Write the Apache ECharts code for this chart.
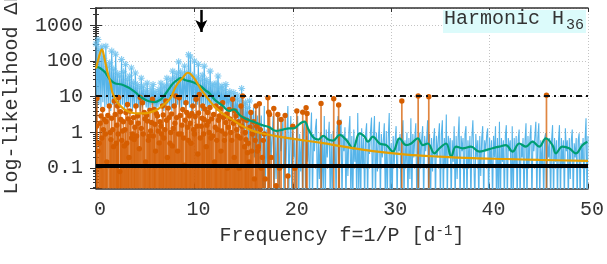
<!DOCTYPE html>
<html><head><meta charset="utf-8">
<script src="https://cdn.jsdelivr.net/npm/echarts@6/dist/echarts.min.js"></script>
<style>html,body{margin:0;padding:0;background:#fff}#c{width:607px;height:264px}</style>
</head><body><div id="c"></div>
<script>
// ---------------- data ----------------
const FREQ_START = 0;      // first frequency of the blue periodogram [1/d]
const FREQ_STEP = 0.1;     // frequency spacing of the blue periodogram
const blueValues = [
 300,5,400,6,200,5,250,7,120,5,
 260,6,70,5,90,4,190,6,60,5,
 155,5,45,6,38,5,110,6,50,4,
 80,5,30,6,38,5,64,4,25,5,
 46,6,22,5,18,4,33,5,20,6,
 15,5,24,4,13,5,17,6,22,5,
 14,4,12,5,16,6,24,5,18,4,
 20,5,33,6,22,5,30,4,52,6,
 35,5,45,6,95,5,50,4,40,6,
 72,5,47,6,150,5,130,4,40,6,
 100,5,34,6,80,5,30,4,40,5,
 72,6,30,5,25,4,52,5,22,6,
 20,5,24,4,38,6,18,5,20,4,
 16,5,22,4,12,5,14,4,10,3,
 13,2,9,3,11,1,8,2,17,1.5,
 6,0.8,7,2,5,0.4,7.6,1,4,0.3,
 5,0.2,4,0.5,3,0.1,5.5,0.3,3,0.05,
 0.02,5.5,0.01,1.2,0.1,0.9,0.01,1.5,0.2,0.8,
 2.9,0.01,1.0,0.05,0.7,3.6,0.01,1.3,0.3,0.9,
 2.4,0.01,0.8,0.1,1.1,5.5,0.02,0.6,2.9,0.01,
 1.0,0.2,0.7,0.01,1.3,2.9,0.01,0.9,0.08,0.6,
 0.01,1.1,1.9,0.01,0.8,0.15,1.2,0.01,0.7,3.6,
 0.01,0.9,0.3,1.3,2.4,0.01,0.6,0.05,1.0,0.01,
 0.8,0.02,2.9,0.01,1.2,0.2,0.7,2.0,0.01,0.9,
 0.01,1.1,0.1,0.7,0.01,1.3,2.9,0.01,0.8,2.3,
 0.01,0.9,0.3,1.4,0.01,0.7,0.06,1.1,2.9,0.01,
 0.8,0.01,1.2,0.15,0.6,0.01,3.5,0.02,1.0,0.01,
 1.3,0.1,0.7,0.01,0.9,1.8,0.01,0.6,0.25,1.1,
 2.6,0.01,0.8,2.9,0.01,1.0,0.08,0.7,2.0,0.01,
 0.9,0.2,0.6,1.8,0.01,1.1,0.01,0.7,3.5,0.01,
 0.5,0.01,0.8,0.1,0.6,1.5,0.01,0.7,0.3,0.9,
 0.01,0.8,2.2,0.01,0.6,0.12,1.0,0.01,0.7,0.05,
 2.5,0.01,0.9,0.2,0.7,1.8,0.01,0.6,0.01,1.0,
 0.1,0.7,1.5,0.01,0.8,0.3,0.6,2.2,0.01,0.9,
 0.01,0.7,0.08,0.6,1.3,0.01,0.8,0.2,0.7,1.8,
 0.01,0.9,2.2,0.01,0.7,0.1,3.2,0.01,0.8,0.3,
 0.7,0.01,0.6,0.15,1.5,0.01,0.8,0.05,0.7,2.8,
 0.01,0.8,0.3,0.7,0.01,0.9,1.5,0.01,0.6,0.1,
 0.8,0.01,0.7,2.2,2.5,0.01,0.9,0.2,0.6,0.01,
 0.8,0.06,0.7,1.5,0.01,0.6,0.3,0.8,1.3,0.01,
 0.7,0.1,0.6,0.01,0.8,0.2,1.5,0.01,0.7,0.01,
 2.0,0.01,0.7,0.15,0.6,0.01,0.8,1.6,0.01,0.7,
 0.3,0.6,0.01,1.5,0.01,0.7,0.1,0.8,0.01,0.6,
 1.2,0.01,0.5,0.2,0.7,0.01,0.6,1.8,0.01,0.8,
 0.1,0.7,1.6,0.01,0.6,0.3,0.8,2.0,0.01,0.7,
 1.8,0.01,0.6,0.1,0.5,0.01,0.7,0.95,0.01,0.6,
 0.2,0.7,0.01,0.6,1.6,0.01,0.7,0.15,0.6,0.01,
 0.6,1.6,0.01,0.7,0.1,0.6,0.01,1.3,0.3,0.6,
 0.01,0.7,0.05,0.6,1.2,0.01,0.5,0.2,0.7,0.01,
 0.6,0.95,0.01,0.5,0.15,0.7,0.01,0.6,2.5,0.01,
 0.8
];
const ASTERISK_MAX_FREQ = 15.6;   // asterisk markers are drawn on the blue peaks below this frequency

// orange harmonic periodogram: [frequency, value] — the outer (visible top) markers
const orangePeaks = [
 [0.1,9],[0.2,0.3],[0.33,0.5],[0.51,2.9],[0.67,4.4],[0.84,2.3],[0.95,0.9],[1.1,0.15],[1.35,5.5],[1.52,0.63],
 [1.7,1.2],[1.86,7.6],[2.05,0.5],[2.19,5.5],[2.3,9.5],[2.42,0.08],[2.53,2.3],[2.7,1.1],[2.87,0.42],[3.04,3.6],
 [3.2,6.1],[3.35,0.2],[3.55,1.9],[3.7,0.9],[3.88,0.63],[4.05,5.5],[4.22,2.9],[4.4,0.35],[4.5,9.5],[4.6,1.3],
 [4.72,6.8],[4.9,3.6],[5.05,0.15],[5.23,2.1],[5.4,0.8],[5.55,1.1],[5.74,8.5],[5.91,4.4],[6.05,0.3],[6.24,2.9],
 [6.42,0.51],[6.59,1.5],[6.75,5.5],[6.9,0.7],[7.1,7.6],[7.25,0.2],[7.43,2.6],[7.6,1.0],[7.76,0.42],[7.85,1.3],
 [7.94,5.5],[8.11,10.5],[8.3,0.3],[8.47,9.4],[8.65,0.9],[8.82,4.4],[9.0,0.12],[9.15,6.8],[9.3,1.4],[9.49,2.9],
 [9.65,0.5],[9.83,5.5],[10.0,0.9],[10.17,8.5],[10.35,0.25],[10.5,11.5],[10.7,1.5],[10.85,5.5],[11.0,2.3],[11.2,0.4],
 [11.35,3.6],[11.5,1.0],[11.85,0.8],[12.05,0.15],[12.2,5.5],[12.35,1.2],[12.53,2.9],[12.7,0.3],[12.87,6.8],[13.05,0.6],
 [13.2,1.9],[13.35,0.1],[13.54,4.4],[13.7,1.0],[13.89,8.5],[14.05,0.2],[14.22,2.9],[14.4,0.8],[14.55,0.1],[14.73,5.5],
 [14.9,10.5],[15.1,0.4],[15.24,0.63],[15.4,0.27],[15.55,0.15],[15.74,3.6],[15.9,0.9],[16.1,0.05],[16.25,5.5],[16.4,0.3],
 [16.6,6.4],[16.8,0.1],[17.0,0.6],[17.2,0.05],[17.47,9.4],[17.55,3.7],[17.64,3.2],[17.8,0.2],[18.07,4.7],[18.3,0.032],
 [18.48,3.2],[18.65,0.1],[18.81,2.3],[19.22,3.0],[19.5,0.06],[20.0,1.5],[20.2,0.1],[20.41,4.0],[21.01,3.7],[21.35,4.9],
 [21.45,3.4],[22.87,6.5],[24.16,8.8],[24.66,5.9],[24.72,1.9],[31.08,7.6],[32.74,10.5],[33.82,10],[45.78,11]
];
// orange markers inside the dense part of the orange periodogram
const orangeInner = [
 [0.05,1.5],[0.42,1.8],[0.6,0.7],[0.76,1.2],[1.02,2.0],[1.2,3.0],[1.45,1.0],[1.6,2.5],[1.78,0.4],[1.95,3.2],
 [2.12,1.6],[2.25,0.9],[2.48,3.8],[2.62,0.6],[2.78,2.0],[2.95,1.2],[3.12,0.5],[3.28,2.4],[3.45,4.0],[3.62,0.7],
 [3.8,2.6],[3.95,1.4],[4.13,0.8],[4.3,1.8],[4.8,0.9],[4.98,2.4],[5.15,3.0],[5.32,0.6],[5.48,4.2],[5.65,1.9],
 [5.82,0.8],[5.98,1.7],[6.13,3.4],[6.33,1.1],[6.5,2.0],[6.67,0.9],[6.83,3.1],[7.0,1.2],[7.17,2.2],[7.34,4.8],
 [7.52,0.5],[7.68,3.3],[8.02,1.8],[8.2,2.6],[8.38,0.9],[8.56,3.0],[8.73,1.6],[8.9,0.7],[9.07,2.2],[9.22,3.6],
 [9.4,0.6],[9.57,1.8],[9.74,3.4],[9.92,1.2],[10.08,2.8],[10.26,1.5],[10.42,3.5],[10.6,0.7],[10.78,2.5],[10.93,0.9],
 [11.08,4.5],[11.27,1.6],[11.42,2.0],[11.58,5.0],[11.68,0.7],[11.76,2.4],[11.95,3.2],[12.12,1.4],[12.27,0.6],[12.44,2.2],
 [12.62,4.6],[12.78,1.1],[12.96,2.6],[13.12,0.9],[13.28,3.3],[13.45,1.4],[13.62,2.4],[13.8,0.6],[13.97,1.8],[14.13,4.0],
 [14.3,1.2],[14.47,2.0],[14.64,0.7],[14.82,1.5],[15.0,2.4],[15.17,1.0],[15.32,2.2],[15.48,0.5],[15.65,1.4],[15.82,0.3],
 [16.0,2.0],[16.18,0.6],[16.33,1.5],[16.5,0.4],[16.7,1.2],[16.9,0.2],[17.1,0.9]
];

// green smoothed curve: [frequency, value]
const greenCurve = [
 [0.0,68],[0.4,64],[0.9,49],[1.4,31],[1.9,24],[2.6,22],[3.2,18.7],[3.7,15.4],[4.2,11.9],[4.7,9.2],
 [5.3,7.6],[5.9,7.1],[6.5,8.1],[6.9,10.5],[7.4,16.4],[7.8,23],[8.3,30],[8.6,33],[9.1,29],[9.6,27],
 [10.1,24],[10.6,20],[11.1,15.4],[11.6,12],[12.0,8.6],[12.4,6.9],[12.9,5.5],[13.5,4.0],[14.0,4.4],[14.7,2.9],
 [15.4,2.3],[16.2,1.9],[16.9,1.6],[17.6,1.4],[18.3,1.1],[19.0,1.2],[19.6,1.3],[20.1,1.3],[20.5,1.55],[20.9,1.9],
 [21.2,2.0],[21.6,1.2],[22.1,0.72],[22.6,0.63],[23.1,0.8],[23.6,0.63],[24.1,0.59],[24.77,0.85],[25.44,0.61],[26.11,0.36],
 [26.79,0.94],[27.3,0.76],[27.63,0.55],[28.14,0.76],[28.82,0.49],[29.5,0.44],[30.17,0.29],[30.85,0.68],[31.53,0.44],[32.03,0.49],
 [32.7,0.68],[33.21,0.44],[33.72,0.49],[34.39,0.26],[34.9,0.36],[35.58,0.49],[36.09,0.21],[36.59,0.40],[37.26,0.36],[38.11,0.40],
 [38.96,0.29],[39.64,0.32],[40.3,0.36],[40.98,0.40],[41.66,0.44],[42.33,0.29],[43.01,0.49],[43.69,0.40],[44.36,0.55],[45.04,0.40],
 [45.72,0.68],[46.39,0.44],[46.73,0.26],[47.4,0.40],[48.08,0.36],[48.76,0.26],[49.43,0.44],[49.94,0.55]
];

// yellow-orange model curve: [frequency, value]
const yellowCurve = [
 [0.0,62],[0.3,130],[0.6,213],[0.85,121],[1.18,47],[1.45,26],[1.68,12.9],[2.19,6.8],[2.87,4.4],[3.55,3.6],
 [4.22,3.4],[4.9,3.4],[5.58,3.7],[6.24,4.4],[6.92,6.1],[7.6,9.4],[8.14,20],[8.82,34],[9.33,47],[9.66,42],
 [10.17,27.5],[10.67,16],[11.17,10.5],[11.86,6.1],[12.53,4.0],[13.2,2.9],[14.05,2.1],[14.9,1.5],[15.74,1.17],[16.58,0.98],
 [18.3,0.79],[19.7,0.68],[23.07,0.50],[24.7,0.42],[28.14,0.30],[31.53,0.24],[34.9,0.21],[38.28,0.19],[41.66,0.18],[45.04,0.17],
 [50,0.16]
];

const thresholdLevel = 11;     // dash-dotted significance line
const floorLevel = 0.12;       // thick black line
const arrowFreq = 10.7;        // arrow marking the harmonic frequency
const arrowTop = 2700, arrowTip = 650;

const X_MIN = 0, X_MAX = 50, X_STEP = 10;
const Y_MIN = 0.0269, Y_MAX = 3055;
const xTitleMain = 'Frequency f=1/P [d', xTitleSup = '-1', xTitleEnd = ']';
const yTitle = 'Log-likelihood \u0394L';
const tagMain = 'Harmonic H', tagSub = '36';

// ---------------- chart ----------------
const FONT = "'Liberation Mono','DejaVu Sans Mono',monospace";
const TXT = '#333';
const C_BLUE = '#56B4E9', C_VERM = '#D55E00', C_GREEN = '#009E73', C_ORANGE = '#E69F00';

const blueData = blueValues.map((v, i) => [+(FREQ_START + i * FREQ_STEP).toFixed(2), v]);
const asteriskData = blueData.filter((p, i) =>
  p[0] <= ASTERISK_MAX_FREQ &&
  (i === 0 || p[1] >= blueValues[i - 1]) &&
  (i === blueValues.length - 1 || p[1] >= blueValues[i + 1]));
const orangeAll = orangeInner.concat(orangePeaks);

const ASTERISK = 'path://M-0.8,-5L0.8,-5L0.8,5L-0.8,5Z M-5,-0.8L5,-0.8L5,0.8L-5,0.8Z M-4.1,-2.97L-2.97,-4.1L4.1,2.97L2.97,4.1Z M2.97,-4.1L4.1,-2.97L-2.97,4.1L-4.1,2.97Z';

const chart = echarts.init(document.getElementById('c'), null, {renderer: 'canvas'});
const gridLine = {show: true, lineStyle: {color: '#c4c4c4', type: [1, 2], width: 1}};
const frame = {show: true, lineStyle: {color: '#333', width: 1.5}};

chart.setOption({
  animation: false,
  textStyle: {fontFamily: FONT},
  grid: {left: 96, right: 18, top: 8, bottom: 75.5, containLabel: false},
  xAxis: [{
    type: 'value', min: X_MIN, max: X_MAX, interval: X_STEP, position: 'bottom',
    axisLine: frame,
    axisTick: {show: true, inside: true, length: 5, lineStyle: {color: '#333'}},
    axisLabel: {fontFamily: FONT, fontSize: 20, color: TXT, margin: 11, padding: [0, 0, 0, 8]},
    splitLine: gridLine,
    name: '{m|' + xTitleMain + '}{s|' + xTitleSup + '}{m|' + xTitleEnd + '}',
    nameLocation: 'middle', nameGap: 31,
    nameTextStyle: {
      rich: {
        m: {fontFamily: FONT, fontSize: 20, color: TXT, lineHeight: 22},
        s: {fontFamily: FONT, fontSize: 14, color: TXT, verticalAlign: 'top', lineHeight: 14}
      }
    }
  }, {
    type: 'value', min: X_MIN, max: X_MAX, interval: X_STEP, position: 'top',
    axisLine: frame,
    axisTick: {show: true, inside: true, length: 4, lineStyle: {color: '#333'}},
    axisLabel: {show: false}, splitLine: {show: false}
  }],
  yAxis: [{
    type: 'log', logBase: 10, min: Y_MIN, max: Y_MAX, position: 'left',
    axisLine: frame,
    axisTick: {show: true, inside: true, length: 6, lineStyle: {color: '#333'}},
    minorTick: {show: true, splitNumber: 9, length: 3, lineStyle: {color: '#333'}},
    axisLabel: {
      fontFamily: FONT, fontSize: 20, color: TXT, margin: 13, padding: [3, 0, 0, 0],
      showMinLabel: false, showMaxLabel: false,
      formatter: v => String(parseFloat(Number(v).toPrecision(4)))
    },
    splitLine: gridLine
  }, {
    type: 'log', logBase: 10, min: Y_MIN, max: Y_MAX, position: 'right',
    axisLine: frame,
    axisTick: {show: true, inside: true, length: 6, lineStyle: {color: '#333'}},
    minorTick: {show: true, splitNumber: 9, length: 3, lineStyle: {color: '#333'}},
    axisLabel: {show: false}, splitLine: {show: false}
  }],
  series: [
    {
      name: 'blue', type: 'line', data: blueData, showSymbol: false, symbol: 'none',
      lineStyle: {color: C_BLUE, width: 1.1}, itemStyle: {color: C_BLUE},
      z: 2, clip: true, silent: true
    },
    {
      name: 'blueStars', type: 'scatter', data: asteriskData, symbol: ASTERISK, symbolSize: 7,
      itemStyle: {color: '#6cc0ee'}, z: 2, clip: true, silent: true
    },
    {
      name: 'orange', type: 'custom', data: orangeAll, z: 3, clip: true, silent: true,
      renderItem: function (params, api) {
        const f = api.value(0), v = api.value(1);
        const top = api.coord([f, v]);
        const base = api.coord([f, Y_MIN]);
        return {
          type: 'group',
          children: [
            {type: 'line', shape: {x1: top[0], y1: base[1], x2: top[0], y2: top[1]},
             style: {stroke: 'rgba(213,94,0,0.75)', lineWidth: 1.7}},
            {type: 'circle', shape: {cx: top[0], cy: top[1], r: 2.7}, style: {fill: C_VERM}}
          ]
        };
      }
    },
    {
      name: 'green', type: 'line', data: greenCurve, smooth: 0.4, showSymbol: false, symbol: 'none',
      lineStyle: {color: C_GREEN, width: 2.2}, z: 4, silent: true
    },
    {
      name: 'yellow', type: 'line', data: yellowCurve, smooth: 0.4, showSymbol: false, symbol: 'none',
      lineStyle: {color: C_ORANGE, width: 2.2}, z: 5, silent: true,
      markLine: {
        silent: true, symbol: 'none', animation: false, label: {show: false},
        emphasis: {disabled: true},
        data: [
          {yAxis: thresholdLevel, lineStyle: {color: '#111', width: 2, type: [6, 4, 2, 4]}},
          {yAxis: floorLevel, lineStyle: {color: '#000', width: 4, type: 'solid'}},
          [{coord: [arrowFreq, arrowTop], symbol: 'none', lineStyle: {color: '#000', width: 2.5, type: 'solid'}},
           {coord: [arrowFreq, arrowTip], symbol: 'arrow', symbolSize: [9, 12]}]
        ]
      }
    }
  ],
  graphic: [
    {type: 'rect', left: 443, top: 10, shape: {width: 143, height: 23}, style: {fill: '#dcfbfb'}, z: 10},
    {type: 'text', x: 444, y: 19, z: 11,
     style: {text: tagMain, font: "20px 'Liberation Mono','DejaVu Sans Mono',monospace", fill: TXT, align: 'left', verticalAlign: 'middle'}},
    {type: 'text', x: 566, y: 25.5, z: 11,
     style: {text: tagSub, font: "15px 'Liberation Mono','DejaVu Sans Mono',monospace", fill: TXT, align: 'left', verticalAlign: 'middle'}},
    {type: 'text', x: 12, y: 194.5, rotation: Math.PI / 2, z: 11,
     style: {text: yTitle, font: "20px 'Liberation Mono','DejaVu Sans Mono',monospace", fill: TXT, align: 'left', verticalAlign: 'middle'}}
  ]
});
</script>
</body></html>
